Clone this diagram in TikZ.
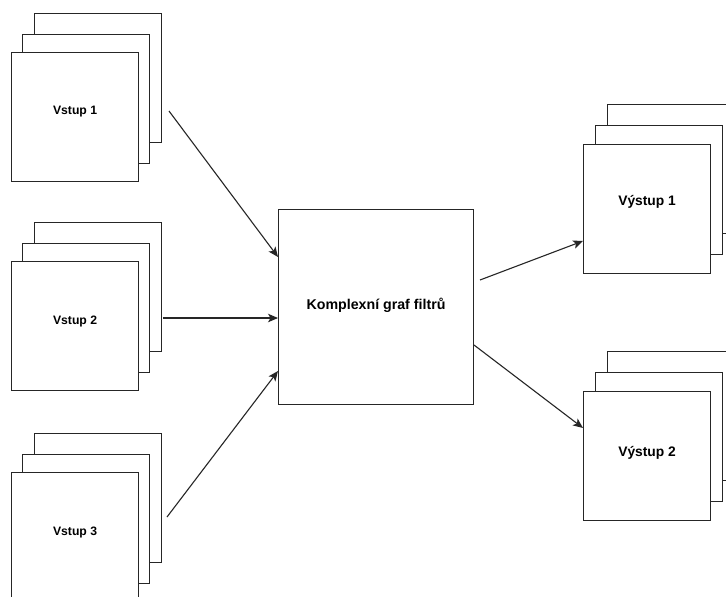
\documentclass[tikz,border=0pt]{standalone}
\usepackage{fontspec}
\setmainfont{Liberation Sans}
\usetikzlibrary{arrows.meta,calc}
\begin{document}
\begin{tikzpicture}[x=1pt,y=-1pt,
  page/.style={draw=black!85, line width=1.1pt, fill=white, minimum width=127pt, minimum height=129pt, inner sep=0pt, anchor=north west},
  inlabel/.style={font=\bfseries\fontsize{12.2}{14}\selectfont, text=black},
  outlabel/.style={font=\bfseries\fontsize{13.8}{15}\selectfont, text=black},
  centerlabel/.style={font=\bfseries\fontsize{14.2}{16}\selectfont, text=black},
  centerbox/.style={draw=black!85, line width=1.1pt, fill=white, minimum width=195pt, minimum height=195pt, inner sep=0pt, anchor=north west},
  arr/.style={draw=black!85, line width=1.1pt, -{Stealth[length=10pt,width=8.5pt,inset=2.5pt]}}]
\useasboundingbox (0,0) rectangle (726,597);
\clip (0,0) rectangle (726,597);
\fill[white] (0,0) rectangle (726,597);

% input stacks
\foreach \n/\y/\t in {1/52/Vstup 1, 2/261/Vstup 2, 3/472/Vstup 3}{
  \node[page] (in\n b) at (34,\y-39) {};
  \node[page] (in\n m) at (22,\y-18) {};
  \node[page] (in\n f) at (11,\y) {};
  \node[inlabel, yshift=5pt] (in\n t) at (in\n f.center) {\t};
}

% output stacks
\foreach \n/\y/\t/\s in {1/144/Výstup 1/7, 2/391/Výstup 2/3}{
  \node[page] (out\n b) at (607,\y-40) {};
  \node[page] (out\n m) at (595,\y-19) {};
  \node[page] (out\n f) at (583,\y) {};
  \node[outlabel, yshift=\s pt] (out\n t) at (out\n f.center) {\t};
}

% central box
\node[centerbox] (c) at (278,209) {};
\node[centerlabel, yshift=2pt] (ct) at (c.center) {Komplexní graf filtrů};

% connector start points
\coordinate (a1s) at (169,111);
\coordinate (a2s) at (163,318);
\coordinate (a3s) at (167,517);
\coordinate (o1s) at (480,280);
\coordinate (o2s) at (474,345);

\draw[arr] (a1s) -- ($(c.north west)+(0,48)$);
\draw[arr] (a2s) -- ($(c.north west)+(0,109)$);
\draw[arr] (a3s) -- ($(c.north west)+(0,162)$);
\draw[arr] (o1s) -- ($(out1f.north west)+(0,97)$);
\draw[arr] (o2s) -- ($(out2f.north west)+(0,37)$);
\end{tikzpicture}
\end{document}
